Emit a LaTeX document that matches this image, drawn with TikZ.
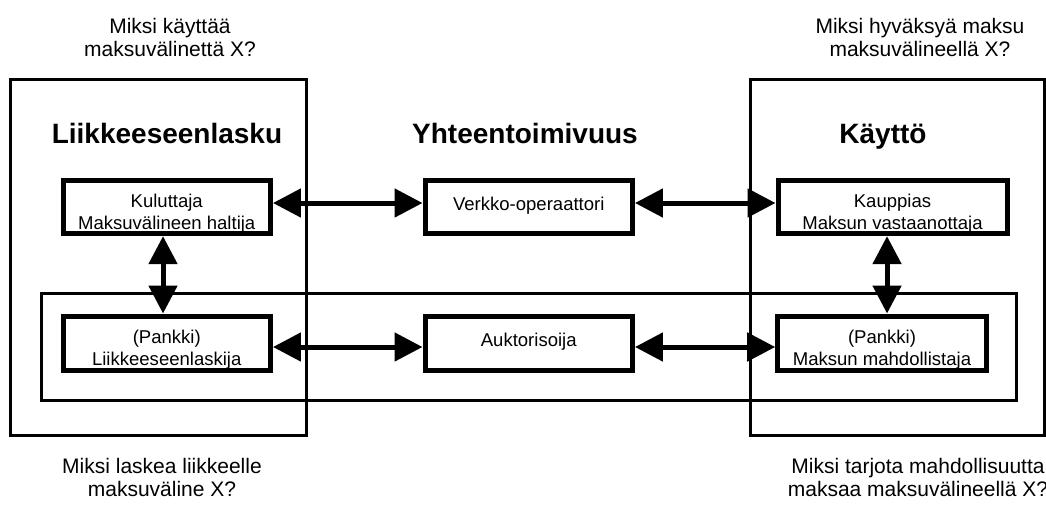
\documentclass[tikz,border=0pt]{standalone}
\usepackage{fontspec}
\setmainfont{Liberation Sans}
\usepackage{tikz}
\usetikzlibrary{calc}
\usetikzlibrary{arrows.meta}

\begin{document}
\begin{tikzpicture}[x=0.75pt,y=-0.75pt,
  osapuoli/.style={draw,line width=3.75pt,minimum width=155.6pt,minimum height=40pt,inner sep=0pt,align=center,text height=33pt,text depth=0pt,font=\fontsize{13.9}{16.3}\selectfont},
  yksirivi/.style={text height=12.25pt,text depth=7.75pt},
  alue/.style={draw,line width=2.25pt},
  nuoli/.style={line width=3.75pt,{Triangle[length=21pt,width=21pt]}-{Triangle[length=21pt,width=21pt]}},
  otsikko/.style={anchor=base,inner sep=0pt,font=\fontsize{21}{25}\selectfont\bfseries},
  kysymys/.style={anchor=north,inner sep=0pt,align=center,font=\fontsize{15.75}{17.25}\selectfont}]
\useasboundingbox (0,0) rectangle (1046,504);
\draw[alue] (10.5,79.5) rectangle (306.5,435);
\draw[alue] (750.5,79.5) rectangle (1044.5,435);
\draw[alue] (41,293) rectangle (1016,400);
\node[kysymys] (kysymysKaytto) at (170,18) {Miksi käyttää\\maksuvälinettä X?};
\node[kysymys] (kysymysHyvaksy) at (920,18) {Miksi hyväksyä maksu\\maksuvälineellä X?};
\node[kysymys] (kysymysLaske) at (162,458) {Miksi laskea liikkeelle\\maksuväline X?};
\node[kysymys] (kysymysTarjoa) at (918,458) {Miksi tarjota mahdollisuutta\\maksaa maksuvälineellä X?};
\node[otsikko] (liikkeeseenlasku) at (167,143) {Liikkeeseenlasku};
\node[otsikko] (yhteentoimivuus) at (525,143) {Yhteentoimivuus};
\node[otsikko] (kaytto) at (883,143) {Käyttö};
\node[osapuoli] (kuluttaja) at (166.75,207) {Kuluttaja\\Maksuvälineen haltija};
\node[osapuoli,yksirivi] (verkko) at (528.75,207) {Verkko-operaattori};
\node[osapuoli,minimum width=171.75pt] (kauppias) at (892.5,207) {Kauppias\\Maksun vastaanottaja};
\node[osapuoli,minimum height=40.5pt] (laskija) at (166.75,343) {(Pankki)\\Liikkeeseenlaskija};
\node[osapuoli,yksirivi,minimum height=40.5pt] (auktorisoija) at (528.75,343) {Auktorisoija};
\node[osapuoli,minimum width=156.4pt,minimum height=40.5pt] (mahdollistaja) at (882,343) {(Pankki)\\Maksun mahdollistaja};
\draw[nuoli] ([yshift=3pt]kuluttaja.east) -- ([yshift=3pt]verkko.west);
\draw[nuoli] ([yshift=3pt]verkko.east) -- ([yshift=3pt]kauppias.west);
\draw[nuoli] ([yshift=-3pt]laskija.east) -- ([yshift=-3pt]auktorisoija.west);
\draw[nuoli] ([yshift=-3pt]auktorisoija.east) -- ([yshift=-3pt]mahdollistaja.west);
\draw[nuoli] ([xshift=-2.8pt]kuluttaja.south) -- ([xshift=-2.8pt]kuluttaja.south |- laskija.north);
\draw[nuoli] ([xshift=-4.1pt]kauppias.south) -- ([xshift=-4.1pt]kauppias.south |- mahdollistaja.north);
\end{tikzpicture}
\end{document}
